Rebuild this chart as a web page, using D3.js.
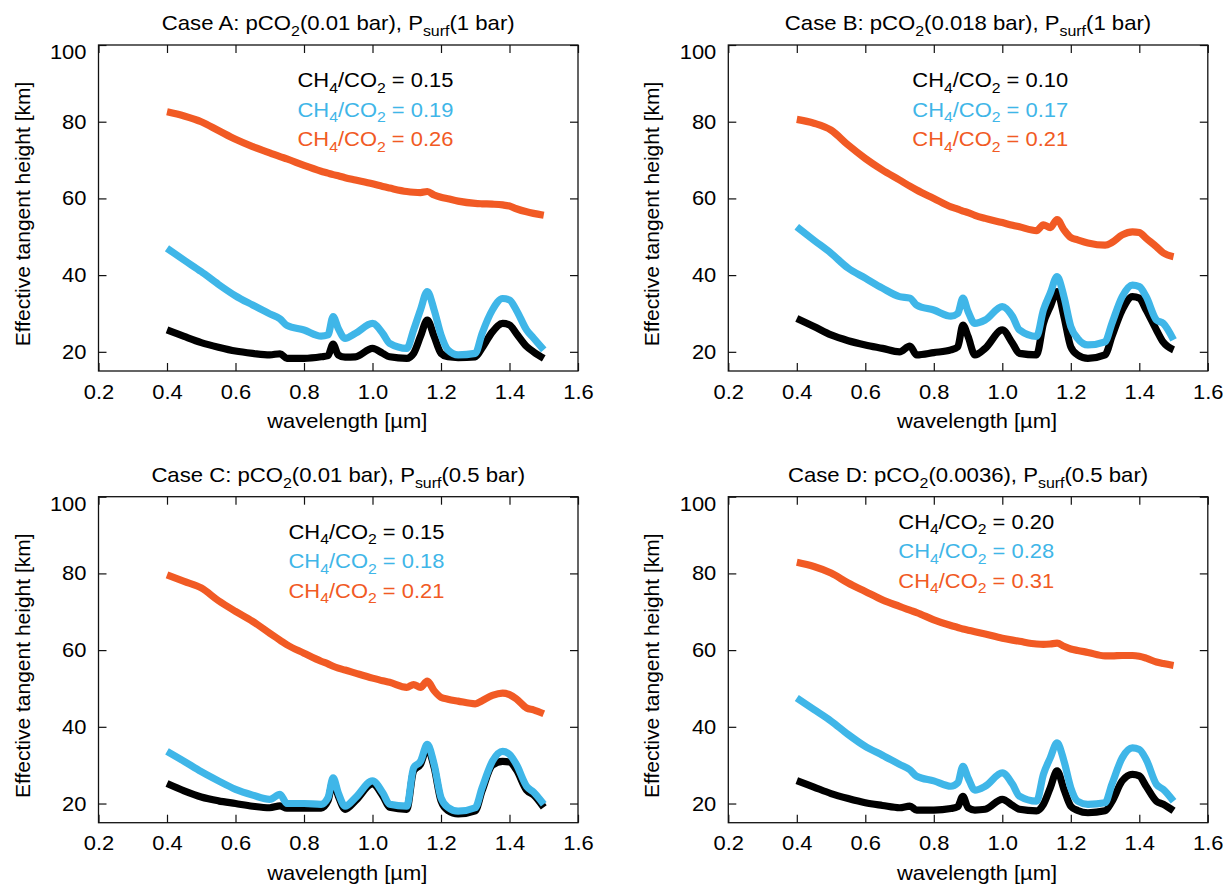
<!DOCTYPE html>
<html>
<head>
<meta charset="utf-8">
<script src="https://cdn.jsdelivr.net/npm/d3@7"></script>
<style>
  body { margin: 0; background: #fff; }
  svg text { font-family: "Liberation Sans", Arial, Helvetica, sans-serif; fill: #000; white-space: pre; }
</style>
</head>
<body>
<svg id="chart" width="1223" height="886"></svg>
<script>
// shared wavelength grid [µm]
const wavelength = [0.40, 0.45, 0.50, 0.55, 0.60, 0.65, 0.70, 0.73, 0.75, 0.80, 0.85, 0.87, 0.885, 0.90, 0.92, 0.95,
  1.00, 1.03, 1.05, 1.10, 1.12, 1.14, 1.16, 1.18, 1.20, 1.22, 1.25, 1.30, 1.32, 1.35, 1.38, 1.40, 1.42, 1.45, 1.47, 1.50];

// effective tangent height [km]
const caseA_black = [25.7, 24.0, 22.4, 21.2, 20.2, 19.6, 19.2, 19.5, 18.3, 18.3, 18.7, 19.0, 22.0, 19.2, 18.6, 18.7,
  20.9, 19.6, 18.7, 18.3, 19.6, 24.0, 28.3, 24.0, 19.6, 18.7, 18.5, 18.7, 21.0, 25.2, 27.4, 27.0, 24.8, 21.4, 20.0, 18.3];
const caseA_blue = [47.0, 43.9, 40.9, 37.6, 34.6, 32.2, 29.9, 28.6, 26.9, 25.7, 24.1, 24.4, 29.2, 26.1, 23.5, 24.8,
  27.4, 24.8, 22.2, 20.9, 25.7, 30.9, 35.7, 30.9, 24.4, 20.5, 19.2, 19.6, 24.8, 30.9, 33.9, 33.5, 30.9, 25.7, 23.6, 20.5];
const caseA_orange = [82.6, 81.5, 80.0, 77.7, 75.4, 73.5, 71.9, 70.9, 70.3, 68.6, 67.1, 66.6, 66.2, 65.9, 65.4, 64.8,
  63.8, 63.1, 62.7, 61.8, 61.6, 61.5, 61.8, 60.9, 60.3, 59.9, 59.3, 58.7, 58.6, 58.5, 58.3, 58.0, 57.3, 56.5, 56.1, 55.6];

const caseB_black = [28.7, 26.6, 24.4, 22.9, 21.8, 20.9, 20.0, 21.5, 19.2, 19.8, 20.5, 21.3, 27.0, 24.0, 19.2, 20.9,
  25.7, 22.2, 19.6, 19.2, 27.4, 31.8, 35.7, 29.2, 21.3, 19.2, 18.3, 19.2, 24.0, 30.9, 34.4, 34.0, 30.9, 25.7, 22.5, 20.5];
const caseB_blue = [52.6, 49.1, 45.7, 41.8, 39.2, 36.6, 34.4, 34.0, 32.2, 30.9, 29.3, 30.0, 34.0, 30.5, 27.4, 28.3,
  31.8, 29.2, 25.7, 24.0, 30.9, 35.3, 39.6, 34.4, 26.6, 23.5, 21.8, 22.6, 27.4, 34.4, 37.4, 37.0, 34.4, 28.3, 27.4, 23.1];
const caseB_orange = [80.6, 79.6, 77.8, 73.9, 70.4, 67.4, 64.8, 63.2, 62.2, 60.0, 57.8, 57.2, 56.7, 56.3, 55.6, 54.8,
  53.7, 53.0, 52.6, 51.6, 53.1, 52.4, 54.5, 51.8, 49.8, 49.2, 48.4, 47.8, 48.5, 50.5, 51.3, 51.1, 49.6, 47.4, 45.8, 44.8];

const caseC_black = [25.2, 23.3, 21.7, 20.7, 20.0, 19.3, 18.9, 19.4, 18.8, 18.8, 18.8, 20.7, 25.9, 22.0, 18.5, 20.7,
  25.1, 22.0, 19.0, 18.5, 28.5, 30.2, 34.5, 29.4, 20.7, 18.2, 17.3, 18.1, 23.3, 30.0, 31.0, 30.8, 28.8, 23.5, 22.3, 19.0];
const caseC_blue = [33.6, 31.0, 28.3, 25.9, 23.7, 22.2, 21.1, 22.4, 20.0, 20.0, 19.8, 21.5, 26.7, 22.8, 19.3, 21.5,
  25.9, 22.8, 19.8, 19.3, 29.3, 31.0, 35.4, 30.2, 21.5, 19.0, 18.0, 18.9, 24.1, 31.0, 33.6, 32.8, 30.2, 24.5, 23.0, 19.8];
const caseC_orange = [79.6, 77.9, 76.2, 72.9, 70.1, 67.5, 64.4, 62.6, 61.4, 59.2, 57.1, 56.4, 55.8, 55.3, 54.8, 54.0,
  52.7, 52.0, 51.6, 50.3, 51.0, 50.3, 51.9, 49.4, 47.7, 47.2, 46.7, 46.0, 46.8, 48.2, 48.8, 48.4, 47.3, 44.9, 44.4, 43.4];

const caseD_black = [26.0, 24.3, 22.6, 21.3, 20.2, 19.5, 18.9, 19.3, 18.3, 18.3, 18.7, 19.2, 21.9, 18.9, 18.3, 18.5,
  21.1, 19.5, 18.5, 18.1, 19.8, 24.1, 28.5, 23.7, 19.3, 18.2, 17.6, 18.1, 20.5, 25.9, 27.6, 27.2, 24.5, 20.6, 19.8, 18.1];
const caseD_blue = [47.5, 44.5, 41.5, 38.0, 34.9, 32.6, 30.2, 28.8, 27.1, 25.9, 24.5, 25.4, 29.7, 26.7, 23.5, 24.5,
  28.0, 25.0, 21.9, 20.6, 27.6, 31.9, 35.8, 31.1, 24.1, 20.6, 19.8, 20.2, 25.0, 31.9, 34.5, 34.1, 31.5, 25.0, 23.7, 20.6];
const caseD_orange = [82.9, 81.8, 80.1, 77.5, 75.3, 73.1, 71.4, 70.4, 69.8, 67.9, 66.4, 65.9, 65.5, 65.2, 64.8, 64.2,
  63.1, 62.6, 62.3, 61.6, 61.5, 61.6, 61.8, 61.0, 60.3, 59.9, 59.4, 58.5, 58.5, 58.6, 58.6, 58.4, 57.9, 56.9, 56.5, 56.0];

const panelTitles = [
  "Case A: pCO_{2}(0.01 bar), P_{surf}(1 bar)",
  "Case B: pCO_{2}(0.018 bar), P_{surf}(1 bar)",
  "Case C: pCO_{2}(0.01 bar), P_{surf}(0.5 bar)",
  "Case D: pCO_{2}(0.0036), P_{surf}(0.5 bar)",
];
const ratios = [
  ["0.15", "0.19", "0.26"],
  ["0.10", "0.17", "0.21"],
  ["0.15", "0.18", "0.21"],
  ["0.20", "0.28", "0.31"],
];
const xTicks = [0.2, 0.4, 0.6, 0.8, 1.0, 1.2, 1.4, 1.6];
const yTicks = [20, 40, 60, 80, 100];
const seriesColors = ["#000000", "#3fb6e8", "#f15a24"];

const panelSeries = [
  [caseA_black, caseA_blue, caseA_orange],
  [caseB_black, caseB_blue, caseB_orange],
  [caseC_black, caseC_blue, caseC_orange],
  [caseD_black, caseD_blue, caseD_orange],
];

// layout
const frames = [
  { left: 98.5, top: 45, legendX: 199, legendY: 42 },
  { left: 728.3, top: 45, legendX: 184, legendY: 42 },
  { left: 98.5, top: 496.7, legendX: 190, legendY: 42 },
  { left: 728.3, top: 496.7, legendX: 170, legendY: 32 },
];
const plotW = 479.5, plotH = 326;
const stretch = 1.07; // source figure text is slightly wide

const svg = d3.select("#chart");

// writes "abc_{sub}def" as tspans with subscripts
function richText(sel, str, size) {
  const parts = str.split(/(_\{[^}]*\})/).filter((p) => p.length);
  let shifted = false;
  parts.forEach((p) => {
    const sub = p.startsWith("_{");
    const t = sel.append("tspan").text(sub ? p.slice(2, -1) : p);
    if (sub) {
      t.attr("font-size", size * 0.72).attr("dy", size * 0.28);
      shifted = true;
    } else if (shifted) {
      t.attr("dy", -size * 0.28);
      shifted = false;
    }
  });
}

// horizontal text placed at (x, y) with the stretch applied
function wideText(parent, x, y, size) {
  return parent.append("text")
    .attr("transform", `translate(${x},${y}) scale(${stretch},1)`)
    .attr("font-size", size);
}

panelSeries.forEach((series, p) => {
  const f = frames[p];
  const g = svg.append("g").attr("transform", `translate(${f.left},${f.top})`);
  const x = d3.scaleLinear().domain([0.2, 1.6]).range([0, plotW]);
  const y = d3.scaleLinear().domain([15, 100]).range([plotH, 0]);

  // curves
  const line = d3.line().x((_, i) => x(wavelength[i])).y((d) => y(d)).curve(d3.curveMonotoneX);
  series.forEach((vals, s) => {
    g.append("path").datum(vals).attr("d", line)
      .attr("fill", "none").attr("stroke", seriesColors[s])
      .attr("stroke-width", 7.2).attr("stroke-linejoin", "round").attr("stroke-linecap", "butt");
  });

  // axes (ticks inward on all sides)
  const fontSize = 20.5;
  const bottom = g.append("g").attr("transform", `translate(0,${plotH})`)
    .call(d3.axisBottom(x).tickValues(xTicks).tickSizeInner(-8).tickSizeOuter(0).tickPadding(13).tickFormat(d3.format(".1f")));
  const left = g.append("g")
    .call(d3.axisLeft(y).tickValues(yTicks).tickSizeInner(-8).tickSizeOuter(0).tickPadding(12).tickFormat(d3.format("d")));
  g.append("g").call(d3.axisTop(x).tickValues(xTicks).tickSizeInner(-8).tickSizeOuter(0).tickFormat(""));
  g.append("g").attr("transform", `translate(${plotW},0)`)
    .call(d3.axisRight(y).tickValues(yTicks).tickSizeInner(-8).tickSizeOuter(0).tickFormat(""));
  g.selectAll(".domain").remove();
  g.selectAll(".tick line").attr("stroke", "#111").attr("stroke-width", 1.2);
  [bottom, left].forEach((a) => a.attr("font-size", fontSize).attr("font-family", null));
  bottom.selectAll(".tick text").attr("transform", `scale(${stretch},1)`);
  left.selectAll(".tick text").attr("transform", `translate(-12,0) scale(${stretch},1)`).attr("x", 0);
  left.selectAll(".tick text").filter((d) => d === 100).attr("y", 7);

  g.append("rect").attr("width", plotW).attr("height", plotH)
    .attr("fill", "none").attr("stroke", "#111").attr("stroke-width", 1.3);

  // title
  const title = wideText(g, plotW / 2, -15, 20.7).attr("text-anchor", "middle");
  richText(title, panelTitles[p], 20.7);

  // axis labels
  wideText(g, plotW / 2 + 9, plotH + 57, fontSize).attr("text-anchor", "middle").text("wavelength [µm]");
  g.append("text").attr("transform", `translate(-69,${plotH / 2 + 6}) rotate(-90)`)
    .attr("text-anchor", "middle").attr("font-size", 21).text("Effective tangent height [km]");

  // legend
  ratios[p].forEach((r, s) => {
    const t = wideText(g, f.legendX, f.legendY + s * 29.5, fontSize).style("fill", seriesColors[s]);
    richText(t, `CH_{4}/CO_{2} = ${r}`, fontSize);
  });
});
</script>
</body>
</html>
